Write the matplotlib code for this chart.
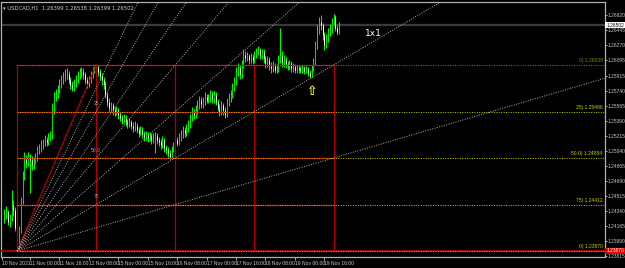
import matplotlib
matplotlib.use("Agg")
import matplotlib.pyplot as plt
import matplotlib.transforms as mtransforms
import numpy as np

plt.rcParams['font.family'] = ['Liberation Sans Narrow', 'Liberation Sans', 'DejaVu Sans']

# USDCAD H1 candles (bar index 0 = first visible bar)
closes = [1.2429, 1.2432, 1.2421, 1.2425, 1.2441, 1.2435, 1.2414, 1.2394, 1.2411, 1.2446,
          1.2476, 1.2493, 1.2490, 1.2495, 1.2493, 1.2487, 1.2493, 1.2495, 1.2505, 1.2507,
          1.2511, 1.2513, 1.2516, 1.2514, 1.2519, 1.2522, 1.2551, 1.2567, 1.2569, 1.2575,
          1.2581, 1.2586, 1.2589, 1.2591, 1.2593, 1.2586, 1.2581, 1.2577, 1.2582, 1.2586,
          1.2591, 1.2595, 1.2596, 1.2593, 1.2586, 1.2582, 1.2586, 1.2592, 1.2598, 1.2600,
          1.2602, 1.2596, 1.2591, 1.2586, 1.2582, 1.2569, 1.2561, 1.2554, 1.2557, 1.2551,
          1.2549, 1.2551, 1.2546, 1.2542, 1.2540, 1.2542, 1.2537, 1.2535, 1.2537, 1.2533,
          1.2530, 1.2533, 1.2528, 1.2525, 1.2528, 1.2523, 1.2520, 1.2522, 1.2519, 1.2521,
          1.2516, 1.2519, 1.2521, 1.2516, 1.2514, 1.2511, 1.2516, 1.2507, 1.2505, 1.2501,
          1.2497, 1.2505, 1.2509, 1.2516, 1.2513, 1.2519, 1.2523, 1.2528, 1.2525, 1.2530,
          1.2534, 1.2542, 1.2549, 1.2546, 1.2551, 1.2557, 1.2563, 1.2558, 1.2561, 1.2567,
          1.2563, 1.2565, 1.2570, 1.2564, 1.2569, 1.2561, 1.2554, 1.2549, 1.2557, 1.2551,
          1.2546, 1.2560, 1.2565, 1.2569, 1.2577, 1.2584, 1.2596, 1.2600, 1.2593, 1.2604,
          1.2616, 1.2612, 1.2614, 1.2610, 1.2613, 1.2610, 1.2616, 1.2619, 1.2621, 1.2616,
          1.2619, 1.2612, 1.2606, 1.2610, 1.2603, 1.2600, 1.2603, 1.2598, 1.2600, 1.2610,
          1.2614, 1.2607, 1.2610, 1.2605, 1.2603, 1.2606, 1.2600, 1.2602, 1.2598, 1.2600,
          1.2599, 1.2598, 1.2600, 1.2597, 1.2599, 1.2595, 1.2591, 1.2600, 1.2607, 1.2627,
          1.2645, 1.2654, 1.2650, 1.2639, 1.2627, 1.2635, 1.2642, 1.2645, 1.2654, 1.2660,
          1.2647, 1.2642, 1.26502]
highs = [1.2436, 1.2440, 1.2435, 1.2430, 1.2458, 1.2446, 1.2438, 1.2417, 1.2416, 1.2450,
         1.2480, 1.2503, 1.2499, 1.2502, 1.2500, 1.2498, 1.2497, 1.2501, 1.2509, 1.2512,
         1.2516, 1.2518, 1.2522, 1.2520, 1.2524, 1.2527, 1.2560, 1.2572, 1.2576, 1.2580,
         1.2587, 1.2592, 1.2596, 1.2599, 1.2600, 1.2597, 1.2590, 1.2585, 1.2587, 1.2592,
         1.2597, 1.2600, 1.2601, 1.2600, 1.2596, 1.2590, 1.2591, 1.2597, 1.2602, 1.2603,
         1.2604, 1.2604, 1.2599, 1.2594, 1.2590, 1.2585, 1.2572, 1.2565, 1.2561, 1.2560,
         1.2555, 1.2556, 1.2554, 1.2549, 1.2546, 1.2547, 1.2545, 1.2541, 1.2542, 1.2540,
         1.2537, 1.2538, 1.2536, 1.2531, 1.2533, 1.2531, 1.2527, 1.2527, 1.2526, 1.2526,
         1.2524, 1.2524, 1.2526, 1.2524, 1.2520, 1.2518, 1.2521, 1.2519, 1.2511, 1.2508,
         1.2505, 1.2509, 1.2514, 1.2521, 1.2520, 1.2524, 1.2528, 1.2533, 1.2531, 1.2535,
         1.2540, 1.2547, 1.2555, 1.2553, 1.2557, 1.2563, 1.2568, 1.2566, 1.2566, 1.2572,
         1.2570, 1.2570, 1.2575, 1.2573, 1.2574, 1.2572, 1.2564, 1.2558, 1.2562, 1.2560,
         1.2555, 1.2565, 1.2571, 1.2575, 1.2583, 1.2590, 1.2602, 1.2606, 1.2604, 1.2610,
         1.2622, 1.2620, 1.2619, 1.2617, 1.2618, 1.2617, 1.2620, 1.2624, 1.2626, 1.2624,
         1.2623, 1.2622, 1.2615, 1.2614, 1.2613, 1.2607, 1.2608, 1.2606, 1.2605, 1.2615,
         1.2647, 1.2620, 1.2615, 1.2613, 1.2609, 1.2610, 1.2609, 1.2606, 1.2605, 1.2604,
         1.2604, 1.2603, 1.2604, 1.2603, 1.2603, 1.2602, 1.2598, 1.2604, 1.2612, 1.2632,
         1.2650, 1.2660, 1.2662, 1.2653, 1.2642, 1.2640, 1.2647, 1.2652, 1.2659, 1.2663,
         1.2662, 1.2651, 1.26538]
lows = [1.2420, 1.2424, 1.2417, 1.2415, 1.2422, 1.2428, 1.2410, 1.2387, 1.2390, 1.2408,
        1.2442, 1.2470, 1.2484, 1.2486, 1.2455, 1.2482, 1.2483, 1.2489, 1.2492, 1.2500,
        1.2503, 1.2506, 1.2509, 1.2509, 1.2510, 1.2515, 1.2518, 1.2547, 1.2562, 1.2565,
        1.2571, 1.2577, 1.2582, 1.2585, 1.2587, 1.2582, 1.2576, 1.2573, 1.2574, 1.2578,
        1.2583, 1.2588, 1.2590, 1.2588, 1.2582, 1.2577, 1.2578, 1.2583, 1.2589, 1.2594,
        1.2595, 1.2591, 1.2586, 1.2581, 1.2576, 1.2565, 1.2556, 1.2549, 1.2550, 1.2546,
        1.2544, 1.2545, 1.2541, 1.2538, 1.2535, 1.2536, 1.2533, 1.2530, 1.2531, 1.2529,
        1.2526, 1.2527, 1.2524, 1.2520, 1.2522, 1.2519, 1.2515, 1.2516, 1.2514, 1.2515,
        1.2512, 1.2513, 1.2501, 1.2512, 1.2509, 1.2506, 1.2507, 1.2503, 1.2500, 1.2497,
        1.2494, 1.2495, 1.2502, 1.2506, 1.2509, 1.2510, 1.2515, 1.2519, 1.2520, 1.2521,
        1.2526, 1.2530, 1.2538, 1.2541, 1.2542, 1.2547, 1.2553, 1.2554, 1.2554, 1.2557,
        1.2559, 1.2559, 1.2561, 1.2560, 1.2560, 1.2557, 1.2550, 1.2544, 1.2545, 1.2546,
        1.2542, 1.2543, 1.2556, 1.2561, 1.2565, 1.2573, 1.2580, 1.2591, 1.2588, 1.2589,
        1.2600, 1.2607, 1.2608, 1.2605, 1.2606, 1.2605, 1.2606, 1.2612, 1.2615, 1.2611,
        1.2611, 1.2606, 1.2600, 1.2601, 1.2598, 1.2595, 1.2596, 1.2594, 1.2594, 1.2596,
        1.2606, 1.2602, 1.2602, 1.2600, 1.2598, 1.2599, 1.2596, 1.2596, 1.2594, 1.2595,
        1.2595, 1.2594, 1.2595, 1.2593, 1.2594, 1.2591, 1.2589, 1.2590, 1.2597, 1.2604,
        1.2623, 1.2640, 1.2645, 1.2633, 1.2621, 1.2624, 1.2631, 1.2638, 1.2641, 1.2650,
        1.2643, 1.2639, 1.26399]
first_open = 1.2425

# time axis labels (bar index of label, text)
xtick_bars = [-1.2, 14, 30, 46, 62, 78, 94, 110, 126, 142, 158, 174]
xtick_text = ["10 Nov 2021", "11 Nov 00:00", "11 Nov 16:00", "12 Nov 08:00", "15 Nov 00:00",
              "15 Nov 16:00", "16 Nov 08:00", "17 Nov 00:00", "17 Nov 16:00", "18 Nov 08:00",
              "19 Nov 00:00", "19 Nov 16:00"]
price_ticks = [1.26620, 1.26445, 1.26270, 1.26095, 1.25915, 1.25740, 1.25565, 1.25390,
               1.25215, 1.25040, 1.24865, 1.24690, 1.24515, 1.24340, 1.24165, 1.23990, 1.23815]

# objects: swing low/high, fib levels, grid columns, gann fan
low_bar, low_price = 7, 1.23870
high_bar, high_price = 50, 1.26039
fib_levels = [1.26039, 1.25496, 1.24954, 1.24412, 1.23870]
fib_names = ["0)", "25)", "50.0)", "75)", "0)"]
grid_bars = [7, 50, 93, 136, 179]
fan_ratios = [1, 2, 3, 4, 5, 6, 7]
bid = 1.26502
title = "USDCAD,H1  1.26399 1.26538 1.26399 1.26502"

opens = [first_open] + closes[:-1]
bars = np.arange(len(closes))

W, H = 625, 268
fig = plt.figure(figsize=(W / 100, H / 100), dpi=100, facecolor="black")
ax = fig.add_axes([1 / W, 11 / H, 604 / W, 255 / H], facecolor="black")
ax.set_xlim(-1.74, 326.5)
ax.set_ylim(1.23800, 1.26773)

# candles
ax.vlines(bars, lows, highs, color="#00ff00", lw=0.7, zorder=2)
body_col = ["#00e000" if c >= o else "#ffffff" for o, c in zip(opens, closes)]
ax.vlines(bars, np.minimum(opens, closes), np.maximum(opens, closes),
          colors=body_col, lw=0.7, zorder=2)

# bid line
ax.axhline(bid, color="#3a3a3a", lw=1.6, zorder=1)

red = "#b00000"
# grid of rectangles
for b in grid_bars:
    ax.plot([b, b], [low_price, high_price], color=red, lw=0.9, zorder=3)
for lv in fib_levels[:-1]:
    ax.plot([grid_bars[0], grid_bars[-1]], [lv, lv], color=red, lw=0.9, zorder=3)
ax.axhline(low_price, color="#c00000", lw=1.2, zorder=3)

# fib levels
ytf = mtransforms.blended_transform_factory(ax.transAxes, ax.transData)
for i, lv in enumerate(fib_levels):
    col = "#808000" if i == 0 else "#c8c800"
    ax.plot([low_bar, 330], [lv, lv], color=col, lw=0.7, ls=(0, (1, 1.5)), zorder=4)
    ax.text(0.996, lv + 0.00022, f"{fib_names[i]} {lv:.5f}", color=col, fontsize=3.6,
            ha="right", va="bottom", transform=ytf)
for lv, name in zip(fib_levels[1:4], ["25", "50.0", "75"]):
    ax.text(high_bar, lv + 0.0006, name, color="#a0a0a0", fontsize=3.6,
            ha="center", va="bottom", zorder=5)

# swing line low -> high
ax.plot([low_bar, high_bar], [low_price, high_price], color=red, lw=0.9, zorder=3)

# gann fan
unit = (high_price - low_price) / ((grid_bars[-1] - low_bar) * 2)
for k in fan_ratios:
    xe = 330
    ax.plot([low_bar, xe], [low_price, low_price + k * unit * (xe - low_bar)],
            color="#b8b0a8", lw=0.7, ls=(0, (1, 1.5)), zorder=4)
ax.text(196, 1.26405, "1x1", color="white", fontsize=6.5, ha="left", va="center",
        family="DejaVu Sans")

# arrow marker
ax.text(167, 1.25730, "\u21e7", color="#ffff00", fontsize=9, ha="center", va="center",
        fontweight="bold", family="DejaVu Sans")

# title
ax.text(0.004, 0.985, "\u25be " + title, transform=ax.transAxes, color="#d0d0d0",
        fontsize=3.8, ha="left", va="top", family=["Liberation Sans Narrow", "DejaVu Sans"])

# axes styling
for s in ax.spines.values():
    s.set_color("#b0b0b0")
    s.set_linewidth(0.9)
ax.yaxis.tick_right()
ax.set_yticks(price_ticks)
ax.set_yticklabels([f"{p:.5f}" for p in price_ticks])
ax.tick_params(axis="y", colors="#c8c8c8", labelsize=3.5, length=1.5, width=0.6, pad=0.5)
ax.set_xticks(xtick_bars)
ax.set_xticklabels(xtick_text, ha="left")
ax.tick_params(axis="x", colors="#c8c8c8", labelsize=3.6, length=2, width=0.6, pad=1)

ax.text(1.002, bid, "1.26502", transform=ytf, color="black", fontsize=3.5, ha="left",
        va="center", bbox=dict(boxstyle="square,pad=0.15", fc="white", ec="none"),
        clip_on=False, zorder=6)
ax.text(1.002, low_price, "1.23870", transform=ytf, color="white", fontsize=3.5,
        ha="left", va="center", bbox=dict(boxstyle="square,pad=0.15", fc="#e00000", ec="none"),
        clip_on=False, zorder=6)

fig.savefig("out.png", dpi=100, facecolor="black")
